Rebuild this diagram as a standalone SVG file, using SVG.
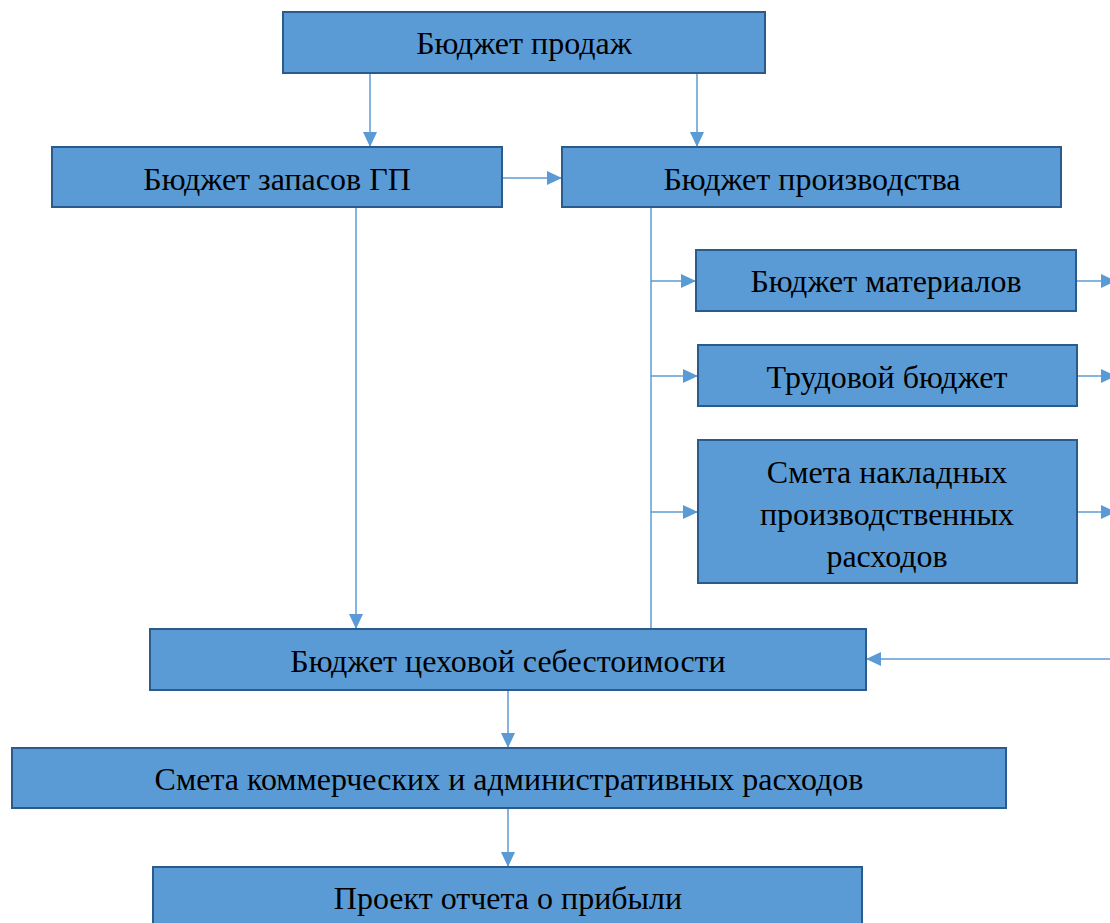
<svg xmlns="http://www.w3.org/2000/svg" width="1110" height="923" viewBox="0 0 1110 923">
<defs>
<marker id="ah" markerWidth="15" markerHeight="14" refX="15" refY="7" orient="auto" markerUnits="userSpaceOnUse">
<path d="M0,0 L15,7 L0,14 Z" fill="#5B9BD5"/>
</marker>
<style>
.box{fill:#5B9BD5;stroke:#2A5B8C;stroke-width:2}
.t{font-family:"Liberation Serif","Times New Roman",serif;font-size:32px;fill:#000;text-anchor:middle}
.c{stroke:#5B9BD5;stroke-width:1.5;fill:none}
.ca{stroke:#5B9BD5;stroke-width:1.5;fill:none;marker-end:url(#ah)}
</style>
</defs>
<rect width="1110" height="923" fill="#fff"/>
<g id="connectors">
<line class="ca" x1="370" y1="73" x2="370" y2="147"/>
<line class="ca" x1="697" y1="73" x2="697" y2="147"/>
<line class="ca" x1="502" y1="178" x2="562" y2="178"/>
<line class="ca" x1="356" y1="207" x2="356" y2="629"/>
<line class="c" x1="651" y1="207" x2="651" y2="629"/>
<line class="ca" x1="651" y1="281" x2="696" y2="281"/>
<line class="ca" x1="651" y1="376" x2="698" y2="376"/>
<line class="ca" x1="651" y1="512" x2="698" y2="512"/>
<line class="ca" x1="1076" y1="281" x2="1116" y2="281"/>
<line class="ca" x1="1077" y1="376" x2="1116" y2="376"/>
<line class="ca" x1="1077" y1="512" x2="1116" y2="512"/>
<line class="ca" x1="1112" y1="659" x2="866" y2="659"/>
<line class="ca" x1="508" y1="690" x2="508" y2="748"/>
<line class="ca" x1="508" y1="808" x2="508" y2="867"/>
</g>
<g id="n1"><rect class="box" x="283" y="12" width="482" height="61"/><text class="t" x="524" y="54">Бюджет продаж</text></g>
<g id="n2"><rect class="box" x="52" y="147" width="450" height="60"/><text class="t" x="277" y="190">Бюджет запасов ГП</text></g>
<g id="n3"><rect class="box" x="562" y="147" width="499" height="60"/><text class="t" x="812" y="190">Бюджет производства</text></g>
<g id="n4"><rect class="box" x="696" y="250" width="380" height="61"/><text class="t" x="886" y="292">Бюджет материалов</text></g>
<g id="n5"><rect class="box" x="698" y="345" width="379" height="61"/><text class="t" x="887" y="388">Трудовой бюджет</text></g>
<g id="n6"><rect class="box" x="698" y="440" width="379" height="143"/><text class="t" x="887" y="483">Смета накладных</text><text class="t" x="887" y="525">производственных</text><text class="t" x="887" y="567">расходов</text></g>
<g id="n7"><rect class="box" x="150" y="629" width="716" height="61"/><text class="t" x="508" y="672">Бюджет цеховой себестоимости</text></g>
<g id="n8"><rect class="box" x="12" y="748" width="994" height="60"/><text class="t" x="509" y="790">Смета коммерческих и административных расходов</text></g>
<g id="n9"><rect class="box" x="153" y="867" width="709" height="70"/><text class="t" x="508" y="909">Проект отчета о прибыли</text></g>
</svg>
